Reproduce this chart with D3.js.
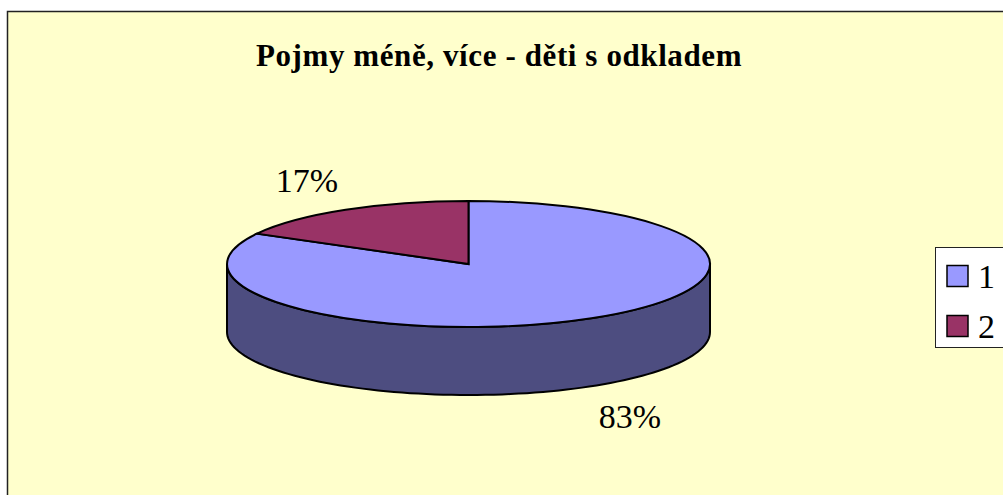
<!DOCTYPE html>
<html>
<head>
<meta charset="utf-8">
<script src="https://cdn.jsdelivr.net/npm/d3@7"></script>
<style>
html, body { margin: 0; padding: 0; background: #fff; overflow: hidden; }
text { font-family: "Liberation Serif", serif; fill: #000; }
</style>
</head>
<body>
<script>
var titleText = "Pojmy méně, více - děti s odkladem";
var categories = ["1", "2"];
var values = [83, 17];
var colors = ["#9999ff", "#993366"];
var sideColor = "#4d4d80";

var width = 1003, height = 495;
var cx = 468.5, cy = 264, rx = 241.5, ry = 63, depth = 68;

var svg = d3.select("body").append("svg")
	.attr("width", width)
	.attr("height", height)
	.style("display", "block");

// chart frame runs off the right and bottom edges
svg.append("rect")
	.attr("x", 7.5)
	.attr("y", 11.5)
	.attr("width", 1020)
	.attr("height", 520)
	.attr("fill", "#ffffcc")
	.attr("stroke", "#222")
	.attr("stroke-width", 1.5);

svg.append("text")
	.attr("x", 499)
	.attr("y", 66)
	.attr("text-anchor", "middle")
	.attr("font-weight", "bold")
	.attr("font-size", 31)
	.attr("letter-spacing", 0.6)
	.text(titleText);

var pie = d3.pie().sort(null)(values);
var arc = d3.arc().innerRadius(0).outerRadius(1);

// side wall, front half of the ellipse
var sideAngles = d3.range(90, 271, 2).map(function (d) { return d * Math.PI / 180; });
var side = d3.area()
	.x(function (a) { return cx + rx * Math.sin(a); })
	.y0(function (a) { return cy - ry * Math.cos(a); })
	.y1(function (a) { return cy - ry * Math.cos(a) + depth; });

svg.append("path")
	.datum(sideAngles)
	.attr("d", side)
	.attr("fill", sideColor)
	.attr("stroke", "#000")
	.attr("stroke-width", 2);

// top face, unit arcs squashed into the ellipse
svg.append("g")
	.attr("transform", "translate(" + cx + "," + cy + ") scale(" + rx + "," + ry + ")")
	.selectAll("path")
	.data(pie)
	.enter().append("path")
	.attr("d", arc)
	.attr("fill", function (d, i) { return colors[i]; })
	.attr("stroke", "#000")
	.attr("stroke-width", 2)
	.attr("vector-effect", "non-scaling-stroke");

var labelPos = [[630, 428], [307, 192]];
svg.selectAll("text.pct")
	.data(values)
	.enter().append("text")
	.attr("class", "pct")
	.attr("x", function (d, i) { return labelPos[i][0]; })
	.attr("y", function (d, i) { return labelPos[i][1]; })
	.attr("text-anchor", "middle")
	.attr("font-size", 34)
	.text(function (d) { return d + "%"; });

// legend, clipped by the right edge like the original
svg.append("rect")
	.attr("x", 935.5)
	.attr("y", 247.5)
	.attr("width", 90)
	.attr("height", 100)
	.attr("fill", "#fff")
	.attr("stroke", "#222")
	.attr("stroke-width", 1);

var legend = svg.selectAll("g.legend")
	.data(categories)
	.enter().append("g")
	.attr("class", "legend")
	.attr("transform", function (d, i) { return "translate(947," + (265.5 + i * 50) + ")"; });

legend.append("rect")
	.attr("width", 21)
	.attr("height", 21)
	.attr("fill", function (d, i) { return colors[i]; })
	.attr("stroke", "#000")
	.attr("stroke-width", 1.5);

legend.append("text")
	.attr("x", 31)
	.attr("y", 22)
	.attr("font-size", 34)
	.text(function (d) { return d; });
</script>
</body>
</html>
